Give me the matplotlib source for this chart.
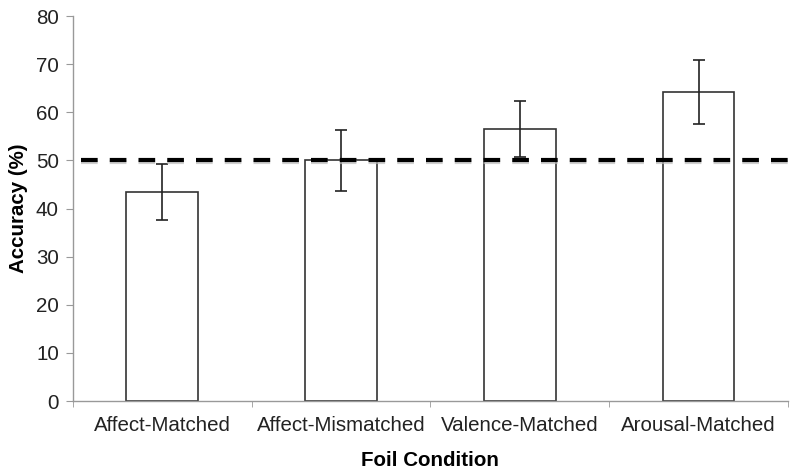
import numpy as np
import matplotlib
matplotlib.use("Agg")
from matplotlib import pyplot as plt

# data
conditions = ["Affect-Matched", "Affect-Mismatched", "Valence-Matched", "Arousal-Matched"]
accuracy = [43.5, 50.0, 56.5, 64.2]
errors = [5.8, 6.3, 5.8, 6.6]
chance = 50

plt.rcParams['font.family'] = ['Liberation Sans', 'DejaVu Sans']
fs = 14.8

fig = plt.figure(figsize=(8, 4.73), dpi=100)
ax = fig.add_axes([0.091, 0.152, 0.894, 0.814])

x = np.arange(len(conditions))
ax.bar(x, accuracy, width=0.4, color='white', edgecolor='#333333', linewidth=1.2, zorder=2)
ax.errorbar(x, accuracy, yerr=errors, fmt='none', ecolor='#222222', elinewidth=1.2,
            capsize=4.5, capthick=1.2, zorder=3)

# chance line with faint shadow
ax.axhline(chance - 0.35, xmin=0.012, color='#bbbbbb', linewidth=3, dashes=(4, 2.9), zorder=3, alpha=0.7)
ax.axhline(chance, xmin=0.012, color='black', linewidth=3, dashes=(4, 2.9), zorder=4)

ax.set_xlim(-0.5, len(conditions) - 0.5)
ax.set_ylim(0, 80)
ax.set_yticks(np.arange(0, 81, 10))
ax.set_xticks(x)
ax.set_xticklabels(conditions)
ax.set_xticks(np.arange(-0.5, len(conditions), 1), minor=True)
ax.tick_params(axis='x', which='major', length=0, pad=11, labelsize=fs, labelcolor='#222222')
ax.tick_params(axis='x', which='minor', length=4, color='#999999', direction='out')
ax.tick_params(axis='y', length=5, color='#999999', labelsize=fs, labelcolor='#222222', pad=5)

for s in ['top', 'right']:
    ax.spines[s].set_visible(False)
for s in ['left', 'bottom']:
    ax.spines[s].set_color('#999999')
    ax.spines[s].set_linewidth(1.0)

ax.set_xlabel("Foil Condition", fontsize=fs, fontweight='bold', labelpad=11)
ax.set_ylabel("Accuracy (%)", fontsize=fs, fontweight='bold', labelpad=6)

plt.savefig("out.png", dpi=100)
